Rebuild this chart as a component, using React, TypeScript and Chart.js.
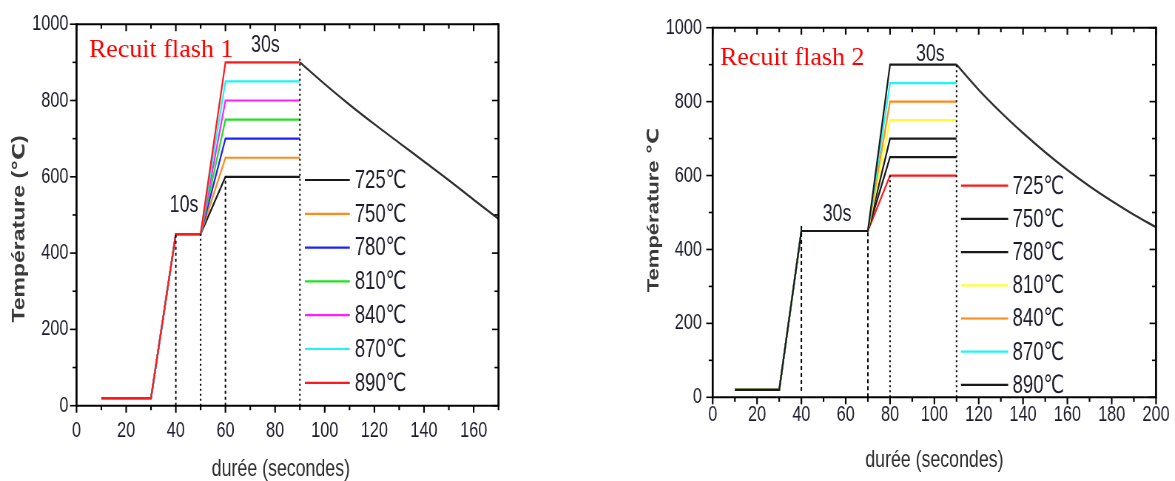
import React, { useEffect, useRef } from 'react';
import { Chart, registerables } from 'chart.js';

Chart.register(...registerables);

// Both panels are drawn on wide canvases and squeezed horizontally.
const SQUEEZE = 0.74;

const SANS = '"Liberation Sans", Arial, "DejaVu Sans", sans-serif';
const SERIF = '"Liberation Serif", "Times New Roman", serif';
const INK = '#1c1c2c';

// Shared temperature axis
const yTicks = [0, 200, 400, 600, 800, 1000];
const yMinor = [100, 300, 500, 700, 900];

// ---- Recuit flash 1 ----
const labels1 = ['725℃', '750℃', '780℃', '810℃', '840℃', '870℃', '890℃'];
const colors1 = ['#1a1a1a', '#ff8a1c', '#2020ff', '#22e022', '#ff20ff', '#20f4f4', '#ff1a1a'];
const heatTimes1 = [10, 30, 40, 50, 60, 90];
const preheat1 = [20, 20, 450, 450];
const plateau1 = [600, 650, 700, 750, 800, 850, 900];
const coolTimes1 = [90, 100, 110, 120, 130, 140, 150, 160, 170];
const coolTemps1 = [900, 843, 789, 738, 689, 640, 591, 540, 490];
const guideX1 = [40, 50, 60, 90];
const guideFrom1 = [0, 0, 0, 0];
const guideTo1 = [450, 450, 600, 910];
const xTicks1 = [0, 20, 40, 60, 80, 100, 120, 140, 160];
const xMinor1 = [10, 30, 50, 70, 90, 110, 130, 150, 170];
const notes1 = ['10s', '30s'];

// ---- Recuit flash 2 ----
const labels2 = ['725℃', '750℃', '780℃', '810℃', '840℃', '870℃', '890℃'];
const colors2 = ['#ff1a1a', '#1a1a1a', '#1a1a1a', '#ffff30', '#ff8a1c', '#20f4f4', '#1a1a1a'];
const heatTimes2 = [10, 30, 40, 70, 80, 110];
const preheat2 = [20, 20, 450, 450];
const plateau2 = [600, 650, 700, 750, 800, 850, 900];
const coolTimes2 = [110, 120, 130, 140, 150, 160, 170, 180, 190, 200];
const coolTemps2 = [900, 832, 771, 715, 663, 615, 571, 531, 494, 460];
const guideX2 = [40, 70, 80, 110];
const guideFrom2 = [17, 0, 0, 0];
const guideTo2 = [470, 450, 600, 905];
const xTicks2 = [0, 20, 40, 60, 80, 100, 120, 140, 160, 180, 200];
const xMinor2 = [10, 30, 50, 70, 90, 110, 130, 150, 170, 190];
const notes2 = ['30s', '30s'];

type Panel = {
  tag: string;
  left: number;
  width: number;
  padTop: number;
  padRight: number;
  yAxisWidth: number;
  xAxisHeight: number;
  xMax: number;
  xTicks: number[];
  xMinor: number[];
  yLabelGap: number;
  xLabelGap: number;
  tagAt: [number, number];
  xTitle: string;
  xTitleDx: number;
  xTitleDy: number;
  yTitle: string;
  yTitlePos: [number, number];
  yTitleSize: number;
  labels: string[];
  colors: string[];
  legendX: [number, number, number];
  legendTop: number;
  legendGap: number;
  notes: string[];
  noteAt: [number, number][];
  datasets: any[];
};

function buildDatasets(
  times: number[], preheat: number[], plateaus: number[], colors: string[], labels: string[],
  coolTimes: number[], coolTemps: number[],
  guideX: number[], guideFrom: number[], guideTo: number[], dashes: number[][]
) {
  const heating = plateaus.map((p, i) => ({
    label: labels[i],
    data: times.map((t, k) => ({ x: t, y: k < preheat.length ? preheat[k] : p })),
    borderColor: colors[i],
    borderWidth: 2.2,
    order: 20 - i,
  }));
  const cooling = {
    label: 'cooling',
    data: coolTimes.map((t, k) => ({ x: t, y: coolTemps[k] })),
    borderColor: '#303030',
    borderWidth: 2.2,
    cubicInterpolationMode: 'monotone',
    order: 2,
  };
  const guides = guideX.map((gx, i) => ({
    label: 'guide' + i,
    data: [{ x: gx, y: guideFrom[i] }, { x: gx, y: guideTo[i] }],
    borderColor: '#000',
    borderWidth: 2,
    borderDash: dashes[i],
    order: 1,
  }));
  return [...heating, cooling, ...guides];
}

const panel1: Panel = {
  tag: 'Recuit flash 1',
  left: 0,
  width: 757,
  padTop: 18.3,
  padRight: 83.4,
  yAxisWidth: 103.4,
  xAxisHeight: 75.3,
  xMax: 170,
  xTicks: xTicks1,
  xMinor: xMinor1,
  yLabelGap: 11,
  xLabelGap: 12.5,
  tagAt: [5, 913],
  xTitle: 'durée (secondes)',
  xTitleDx: -9,
  xTitleDy: 64,
  yTitle: 'Température (℃)',
  yTitlePos: [26.5, 229],
  yTitleSize: 23,
  labels: labels1,
  colors: colors1,
  legendX: [92, 110.1, 112.1],
  legendTop: 180,
  legendGap: 33.8,
  notes: notes1,
  noteAt: [[43.3, 526], [76.1, 944]],
  datasets: buildDatasets(heatTimes1, preheat1, plateau1, colors1, labels1,
    coolTimes1, coolTemps1, guideX1, guideFrom1, guideTo1,
    [[3, 3], [2, 3], [3, 3], [2, 3]]),
};

const panel2: Panel = {
  tag: 'Recuit flash 2',
  left: 600,
  width: 777,
  padTop: 15.7,
  padRight: 25.6,
  yAxisWidth: 152.3,
  xAxisHeight: 83.7,
  xMax: 200,
  xTicks: xTicks2,
  xMinor: xMinor2,
  yLabelGap: 14.5,
  xLabelGap: 4.5,
  tagAt: [3.3, 898],
  xTitle: 'durée (secondes)',
  xTitleDx: 0,
  xTitleDy: 63,
  yTitle: 'Température ℃',
  yTitlePos: [72.5, 210],
  yTitleSize: 22,
  labels: labels2,
  colors: colors2,
  legendX: [112, 133.3, 135.3],
  legendTop: 185.7,
  legendGap: 33.2,
  notes: notes2,
  noteAt: [[56.1, 495], [98.2, 928]],
  datasets: buildDatasets(heatTimes2, preheat2, plateau2, colors2, labels2,
    coolTimes2, coolTemps2, guideX2, guideFrom2, guideTo2,
    [[4, 3], [4, 3], [2, 3], [2, 3]]),
};

function decorPlugin(panel: Panel) {
  return {
    id: 'decor',
    afterDraw(chart: any) {
      const { ctx, chartArea: a, scales } = chart;
      const xs = scales.x;
      const ys = scales.y;
      const seg = (x1: number, y1: number, x2: number, y2: number) => {
        ctx.beginPath();
        ctx.moveTo(x1, y1);
        ctx.lineTo(x2, y2);
        ctx.stroke();
      };
      ctx.save();
      ctx.strokeStyle = '#000';
      ctx.setLineDash([]);

      // frame
      ctx.lineWidth = 2;
      seg(a.left, a.top, a.right, a.top);
      seg(a.left, a.bottom, a.right, a.bottom);
      ctx.lineWidth = 2 / SQUEEZE;
      seg(a.left, a.top - 1, a.left, a.bottom + 1);
      seg(a.right, a.top - 1, a.right, a.bottom + 1);

      // x tick marks: outward at the bottom, inward at the top
      ctx.lineWidth = 1.6 / SQUEEZE;
      panel.xTicks.forEach((v) => {
        const px = xs.getPixelForValue(v);
        seg(px, a.bottom, px, a.bottom + 7);
        seg(px, a.top, px, a.top + 7);
      });
      panel.xMinor.forEach((v) => {
        const px = xs.getPixelForValue(v);
        seg(px, a.bottom, px, a.bottom + 4.5);
        seg(px, a.top, px, a.top + 4.5);
      });

      // y tick marks: outward on the left, inward on the right
      ctx.lineWidth = 1.6;
      yTicks.forEach((v) => {
        const py = ys.getPixelForValue(v);
        seg(a.left - 6.5 / SQUEEZE, py, a.left, py);
        seg(a.right - 6.5 / SQUEEZE, py, a.right, py);
      });
      yMinor.forEach((v) => {
        const py = ys.getPixelForValue(v);
        seg(a.left - 4 / SQUEEZE, py, a.left, py);
        seg(a.right - 4 / SQUEEZE, py, a.right, py);
      });

      // legend inside the plot
      const [lx0, lx1, ltx] = panel.legendX;
      panel.labels.forEach((lab, i) => {
        const py = panel.legendTop + i * panel.legendGap;
        ctx.strokeStyle = panel.colors[i];
        ctx.lineWidth = 2.2;
        seg(xs.getPixelForValue(lx0), py, xs.getPixelForValue(lx1), py);
        ctx.fillStyle = INK;
        ctx.font = `25px ${SANS}`;
        ctx.textAlign = 'left';
        ctx.textBaseline = 'middle';
        ctx.fillText(lab, xs.getPixelForValue(ltx), py + 1);
      });

      // hold-time notes
      ctx.fillStyle = INK;
      ctx.font = `24px ${SANS}`;
      ctx.textAlign = 'center';
      ctx.textBaseline = 'middle';
      panel.notes.forEach((n, i) => {
        const [nx, ny] = panel.noteAt[i];
        ctx.fillText(n, xs.getPixelForValue(nx), ys.getPixelForValue(ny));
      });

      // axis titles
      ctx.fillStyle = '#2c2c2c';
      ctx.font = `24px ${SANS}`;
      ctx.fillText(panel.xTitle, (a.left + a.right) / 2 + panel.xTitleDx, a.bottom + panel.xTitleDy);
      ctx.save();
      ctx.translate(panel.yTitlePos[0], panel.yTitlePos[1]);
      ctx.rotate(-Math.PI / 2);
      ctx.fillStyle = '#3a3a3a';
      ctx.font = `bold ${panel.yTitleSize}px ${SANS}`;
      ctx.fillText(panel.yTitle, 0, 0);
      ctx.restore();

      // panel tag, kept at natural proportions
      ctx.save();
      ctx.translate(xs.getPixelForValue(panel.tagAt[0]), ys.getPixelForValue(panel.tagAt[1]));
      ctx.scale(1 / SQUEEZE, 1);
      ctx.fillStyle = '#ff0000';
      ctx.font = `26px ${SERIF}`;
      ctx.textAlign = 'left';
      ctx.textBaseline = 'alphabetic';
      ctx.fillText(panel.tag, 0, 0);
      ctx.restore();

      ctx.restore();
    },
  };
}

function PanelChart({ panel }: { panel: Panel }) {
  const ref = useRef<HTMLCanvasElement>(null);
  useEffect(() => {
    if (!ref.current) return;
    const tickFont = { family: SANS, size: 22 };
    const plain = (v: any) => String(v);
    const chart = new Chart(ref.current, {
      type: 'line',
      data: { datasets: panel.datasets },
      options: {
        responsive: false,
        animation: false,
        devicePixelRatio: 1,
        layout: { padding: { left: 0, top: panel.padTop, right: panel.padRight, bottom: 0 } },
        plugins: { legend: { display: false }, tooltip: { enabled: false } },
        elements: { point: { radius: 0 }, line: { tension: 0, fill: false } },
        scales: {
          x: {
            type: 'linear',
            min: 0,
            max: panel.xMax,
            afterBuildTicks: (s: any) => { s.ticks = panel.xTicks.map((v) => ({ value: v })); },
            afterFit: (s: any) => { s.height = panel.xAxisHeight; },
            grid: { display: false, drawTicks: false, tickLength: 0 },
            border: { display: false },
            ticks: { font: tickFont, color: INK, padding: panel.xLabelGap, maxRotation: 0, autoSkip: false, callback: plain },
          },
          y: {
            type: 'linear',
            min: 0,
            max: 1000,
            afterBuildTicks: (s: any) => { s.ticks = yTicks.map((v) => ({ value: v })); },
            afterFit: (s: any) => { s.width = panel.yAxisWidth; },
            grid: { display: false, drawTicks: false, tickLength: 0 },
            border: { display: false },
            ticks: { font: tickFont, color: INK, padding: panel.yLabelGap, autoSkip: false, callback: plain },
          },
        },
      } as any,
      plugins: [decorPlugin(panel)],
    });
    return () => chart.destroy();
  }, [panel]);
  return (
    <canvas
      ref={ref}
      width={panel.width}
      height={481}
      style={{
        position: 'absolute',
        left: panel.left,
        top: 0,
        transform: `scaleX(${SQUEEZE})`,
        transformOrigin: '0 0',
      }}
    />
  );
}

export default function App() {
  return (
    <div
      style={{
        position: 'absolute',
        left: 0,
        top: 0,
        width: 1175,
        height: 481,
        overflow: 'hidden',
        background: '#ffffff',
      }}
    >
      <PanelChart panel={panel1} />
      <PanelChart panel={panel2} />
    </div>
  );
}
